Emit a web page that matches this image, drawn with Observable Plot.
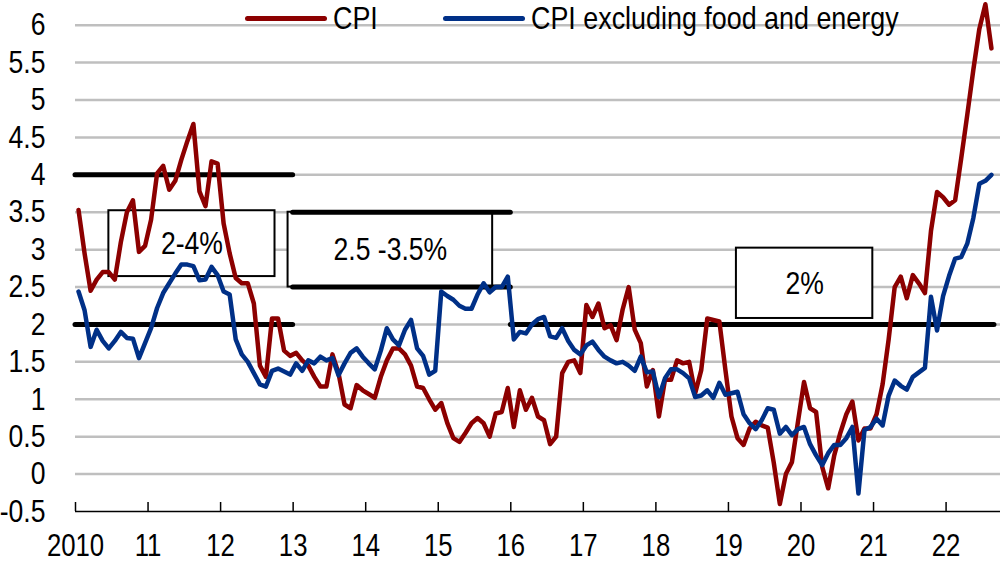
<!DOCTYPE html>
<html>
<head>
<meta charset="utf-8">
<script src="https://cdn.jsdelivr.net/npm/d3@7"></script>
<script src="https://cdn.jsdelivr.net/npm/@observablehq/plot@0.6"></script>
<style>
  html, body { margin: 0; padding: 0; background: #fff; }
  #wrap { position: relative; width: 1000px; height: 562px; overflow: hidden;
          font-family: "Liberation Sans Narrow", "Arial Narrow", "Liberation Sans", Arial, sans-serif; }
  .swatch { position: absolute; top: 15.5px; width: 82px; height: 5px; border-radius: 2.5px; }
  .leg-text { position: absolute; top: 2px; font-size: 32px; line-height: 32px; white-space: nowrap; color: #000;
              transform: scaleX(0.84); transform-origin: 0 50%; }
</style>
</head>
<body>
<div id="wrap">
</div>
<script>
// ---- Data (monthly, year-on-year % change), Jan 2010 - Aug 2022 ----
const startYear = 2010;
const seriesNames = ["CPI", "CPI excluding food and energy"];
const seriesColors = ["#8c0000", "#003087"];

const cpi = [
  3.53, 2.95, 2.45, 2.6, 2.7, 2.7, 2.6, 3.1, 3.5, 3.66, 2.97, 3.05,      // 2010
  3.4, 4.02, 4.12, 3.8, 3.92, 4.2, 4.45, 4.68, 3.78, 3.58, 4.18, 4.15,   // 2011
  3.35, 2.95, 2.62, 2.55, 2.55, 2.28, 1.45, 1.3, 2.08, 2.08, 1.65, 1.58, // 2012
  1.62, 1.52, 1.45, 1.3, 1.17, 1.17, 1.6, 1.35, 0.93, 0.88, 1.19, 1.12,  // 2013
  1.07, 1.02, 1.3, 1.52, 1.68, 1.68, 1.6, 1.45, 1.17, 1.15, 1.0, 0.86,   // 2014
  0.95, 0.68, 0.48, 0.43, 0.55, 0.68, 0.75, 0.68, 0.5, 0.81, 0.83, 1.15, // 2015
  0.63, 1.12, 0.86, 1.02, 0.77, 0.72, 0.4, 0.5, 1.35, 1.5, 1.52, 1.35,   // 2016
  2.26, 2.1, 2.28, 1.95, 1.99, 1.79, 2.2, 2.5, 1.93, 1.75, 1.17, 1.39,   // 2017
  0.77, 1.26, 1.26, 1.52, 1.48, 1.5, 1.08, 1.39, 2.08, 2.06, 2.04, 1.39, // 2018
  0.77, 0.48, 0.39, 0.61, 0.7, 0.65, 0.62, 0.15, -0.4, 0.0, 0.16, 0.7,  // 2019
  1.23, 0.88, 0.83, 0.1, -0.19, 0.25, 0.55, 0.8, 0.97, 0.45, 0.61, 0.61, // 2020
  0.8, 1.2, 1.8, 2.5, 2.64, 2.35, 2.66, 2.55, 2.42, 3.25, 3.77, 3.7,     // 2021
  3.6, 3.66, 4.22, 4.8, 5.4, 5.95, 6.28, 5.69                            // 2022
];

const core = [
  2.44, 2.19, 1.7, 1.93, 1.78, 1.68, 1.78, 1.9, 1.82, 1.81, 1.55, 1.75,  // 2010
  1.95, 2.22, 2.42, 2.55, 2.68, 2.8, 2.8, 2.78, 2.59, 2.6, 2.77, 2.66,   // 2011
  2.44, 2.4, 1.8, 1.6, 1.5, 1.35, 1.2, 1.17, 1.38, 1.41, 1.37, 1.33,     // 2012
  1.48, 1.38, 1.52, 1.48, 1.57, 1.52, 1.55, 1.32, 1.48, 1.62, 1.68, 1.57,// 2013
  1.48, 1.4, 1.65, 1.95, 1.8, 1.72, 1.93, 2.06, 1.68, 1.58, 1.33, 1.38,  // 2014
  2.44, 2.38, 2.33, 2.25, 2.21, 2.21, 2.4, 2.55, 2.43, 2.5, 2.5, 2.64,   // 2015
  1.8, 1.9, 1.88, 2.0, 2.07, 2.1, 1.84, 1.82, 1.95, 1.78, 1.66, 1.6,     // 2016
  1.72, 1.77, 1.66, 1.57, 1.52, 1.48, 1.5, 1.45, 1.38, 1.57, 1.36, 1.37, // 2017
  1.03, 1.28, 1.4, 1.4, 1.35, 1.28, 1.03, 1.05, 1.12, 1.02, 1.22, 1.06,  // 2018
  1.08, 1.1, 0.8, 0.68, 0.6, 0.72, 0.88, 0.86, 0.54, 0.63, 0.52, 0.6,    // 2019
  0.63, 0.4, 0.25, 0.12, 0.28, 0.39, 0.39, 0.48, 0.63, -0.26, 0.59, 0.63,// 2020
  0.74, 0.65, 1.05, 1.25, 1.18, 1.13, 1.3, 1.36, 1.42, 2.37, 1.92, 2.38, // 2021
  2.65, 2.88, 2.9, 3.08, 3.42, 3.88, 3.92, 4.0                           // 2022
];

// Inflation targets of the central bank (periods and bands)
const targetRules = [
  { from: 2010, to: 2013, level: 4 },
  { from: 2010, to: 2013, level: 2 },
  { from: 2013, to: 2016, level: 3.5 },
  { from: 2013, to: 2016, level: 2.5 },
  { from: 2016, to: 2022 + 8 / 12, level: 2 }
];

// Annotation boxes with target labels
const labelBoxes = [
  { x1: 2010.46, x2: 2012.75, y1: 2.64, y2: 3.52, label: "2-4%" },
  { x1: 2012.93, x2: 2015.75, y1: 2.5, y2: 3.5, label: "2.5 -3.5%" },
  { x1: 2019.11, x2: 2020.99, y1: 2.08, y2: 3.02, label: "2%" }
];

const xTicks = [2010, 2011, 2012, 2013, 2014, 2015, 2016, 2017, 2018, 2019, 2020, 2021, 2022];
const yTicks = [-0.5, 0, 0.5, 1, 1.5, 2, 2.5, 3, 3.5, 4, 4.5, 5, 5.5, 6];

// ---- Build table ----
const rows = [];
[cpi, core].forEach((arr, s) => {
  arr.forEach((v, i) => rows.push({ date: startYear + (i + 0.5) / 12, value: v, series: seriesNames[s] }));
});
const xEnd = startYear + (cpi.length + 1) / 12;

const FONT = '"Liberation Sans", Arial, sans-serif';
const xFmt = d => d === 2010 ? "2010" : String(d).slice(2);
const yFmt = d => String(d);

const chart = Plot.plot({
  width: 1000,
  height: 562,
  marginLeft: 75,
  marginRight: 0,
  marginTop: 0,
  marginBottom: 51,
  style: { fontFamily: FONT, fontSize: "32px", color: "#000", background: "#fff", overflow: "visible" },
  x: { domain: [startYear, xEnd] },
  y: { domain: [-0.5, 6.33] },
  color: { domain: seriesNames, range: seriesColors },
  marks: [
    Plot.ruleY(yTicks.filter(d => d > -0.5), { stroke: "#bfbfbf", strokeWidth: 2.5 }),
    Plot.rect(labelBoxes, { x1: "x1", x2: "x2", y1: "y1", y2: "y2", fill: "white", stroke: "black", strokeWidth: 2 }),
    Plot.text(labelBoxes, { x: d => (d.x1 + d.x2) / 2, y: d => (d.y1 + d.y2) / 2, text: "label", fontSize: 32, fill: "black" }),
    Plot.ruleY(targetRules, { x1: "from", x2: "to", y: "level", stroke: "black", strokeWidth: 5, strokeLinecap: "round" }),
    Plot.ruleY([-0.5], { stroke: "black", strokeWidth: 1.5 }),
    Plot.ruleX(xTicks, { insetTop: 502, stroke: "black", strokeWidth: 1.5 }),
    Plot.line(rows, { x: "date", y: "value", z: "series", stroke: "series", strokeWidth: 4.5, strokeLinejoin: "round", strokeLinecap: "round" }),
    Plot.axisX({ ticks: xTicks, tickFormat: xFmt, tickSize: 0, tickPadding: 22, fontSize: 31 }),
    Plot.axisY({ ticks: yTicks, tickFormat: yFmt, tickSize: 0, tickPadding: 30, fontSize: 32 })
  ]
});

const wrap = document.getElementById("wrap");
chart.style.position = "absolute";
chart.style.left = "0";
chart.style.top = "0";
wrap.appendChild(chart);

// Narrow the glyphs (the original uses a condensed typeface)
chart.querySelectorAll("text").forEach(t => {
  const len = t.getComputedTextLength();
  if (len > 0) {
    t.setAttribute("textLength", (len * 0.83).toFixed(2));
    t.setAttribute("lengthAdjust", "spacingAndGlyphs");
  }
});

// Legend (overlaid at the top of the chart)
const legendPos = [{ sw: 245, tx: 333 }, { sw: 443, tx: 531 }];
seriesNames.forEach((name, i) => {
  const sw = document.createElement("div");
  sw.className = "swatch";
  sw.style.left = legendPos[i].sw + "px";
  sw.style.background = seriesColors[i];
  const tx = document.createElement("div");
  tx.className = "leg-text";
  tx.style.left = legendPos[i].tx + "px";
  tx.textContent = name;
  wrap.appendChild(sw);
  wrap.appendChild(tx);
});
</script>
</body>
</html>
